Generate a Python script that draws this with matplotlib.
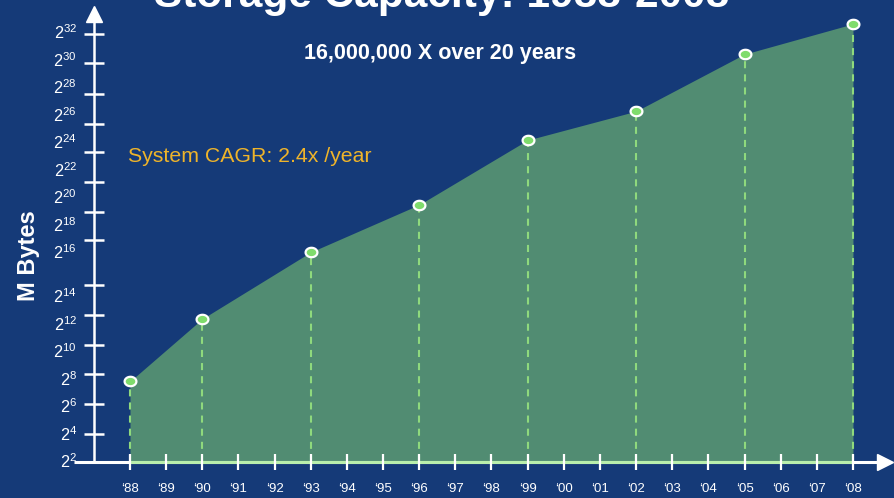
import numpy as np
import matplotlib
matplotlib.use("Agg")
import matplotlib.pyplot as plt
from matplotlib.path import Path

plt.rcParams["font.family"] = ["Liberation Sans", "DejaVu Sans"]
plt.rcParams["mathtext.default"] = "regular"

# Storage capacity (log2 of megabytes) at sampled years
years = [1988, 1990, 1993, 1996, 1999, 2002, 2005, 2008]
capacity_exp = [7.9, 12.45, 16.1, 19.55, 24.25, 26.35, 30.5, 32.7]

tick_years = list(range(1988, 2009))
tick_labels = ["\u2018%02d" % (y % 100) for y in tick_years]
exp_labels = list(range(2, 33, 2))
# tick marks on the vertical axis (in exponent units)
ytick_marks = [4.1, 6.25, 8.4, 10.55, 12.75, 14.55, 16.95, 19.05, 21.2,
               23.35, 25.45, 27.6, 29.85, 31.95]

title = "Storage Capacity: 1988-2008"
note = "16,000,000 X over 20 years"
cagr = "System CAGR: 2.4x /year"
ylabel = "M Bytes"

BG = "#153a78"
FILL = "#518c72"
DOT = "#7fdc6c"
DASH = "#8fd97d"
BASE = "#b9efac"
WHITE = "white"


def fwd(e):
    e = np.asarray(e, float)
    return np.where(e <= 14, e, np.where(e >= 16, e + 1.2, 14 + (e - 14) * 1.6))


def inv(p):
    p = np.asarray(p, float)
    return np.where(p <= 14, p, np.where(p >= 17.2, p - 1.2, 14 + (p - 14) / 1.6))


# slightly flattened ellipse used as the point marker
theta = np.linspace(0, 2 * np.pi, 60)
ellipse = Path(np.column_stack([np.cos(theta), 0.8 * np.sin(theta)]), closed=True)

fig = plt.figure(figsize=(8.94, 4.98), dpi=100, facecolor=BG)
ax = fig.add_axes([0, 0, 1, 1])
ax.set_yscale("function", functions=(fwd, inv))
ax.set_xlim(1984.404, 2009.135)
ax.set_ylim(-0.582, 34.436)
ax.axis("off")

base = 2
yaxis_x = 1987.0

# filled area under the capacity curve
ax.fill_between(years, capacity_exp, base, color=FILL, lw=0, zorder=2)

# dashed drop lines
ax.vlines(years, base, capacity_exp, colors=DASH, lw=1.5,
          linestyles=[(0, (3.4, 2.9))], zorder=3)

# horizontal axis with arrow
ax.plot([1986.45, 2008.75], [base, base], color=WHITE, lw=2.2,
        solid_capstyle="butt", zorder=4)
ax.plot([years[0], years[-1]], [base, base], color=BASE, lw=2.2,
        solid_capstyle="butt", zorder=4)
ax.plot([2008.886], [base], marker=">", ms=12, color=WHITE, zorder=4)
ax.plot(tick_years, [base] * len(tick_years), ls="none", marker="|", ms=12,
        mew=1.6, color=WHITE, zorder=5)

# vertical axis with arrow
ax.plot([yaxis_x, yaxis_x], [base, 32.84], color=WHITE, lw=1.8, zorder=5)
ax.plot([yaxis_x], [33.42], marker="^", ms=11, color=WHITE, zorder=5)
ax.plot([yaxis_x] * len(ytick_marks), ytick_marks, ls="none", marker="_",
        ms=14.4, mew=1.8, color=WHITE, zorder=5)

# data points
ax.plot(years, capacity_exp, ls="none", marker=ellipse, ms=8.5, mfc=DOT,
        mec=WHITE, mew=1.6, zorder=6)

for y, lab in zip(tick_years, tick_labels):
    ax.annotate(lab, (y, base), xytext=(0, -27), textcoords="offset pixels",
                ha="center", va="center", fontsize=9.5, color=WHITE)

for e in exp_labels:
    ax.annotate("$2^{%d}$" % e, (yaxis_x, e), xytext=(-17, -6),
                textcoords="offset pixels", ha="right", va="baseline",
                fontsize=11.7, color=WHITE)

W, H = 894, 498
fig.text(442 / W, 1 - 7 / H, title, ha="center", va="baseline",
         fontsize=30.5, fontweight="bold", color=WHITE)
fig.text(440.5 / W, 1 - 53 / H, note, ha="center", va="center",
         fontsize=15.5, fontweight="bold", color=WHITE)
fig.text(128 / W, 1 - 157 / H, cagr, ha="left", va="center",
         fontsize=15.3, color="#efb42a")
fig.text(29 / W, 1 - 256 / H, ylabel, rotation=90, ha="center", va="center",
         fontsize=17, fontweight="bold", color=WHITE)

fig.savefig("out.png", dpi=100, facecolor=BG)
